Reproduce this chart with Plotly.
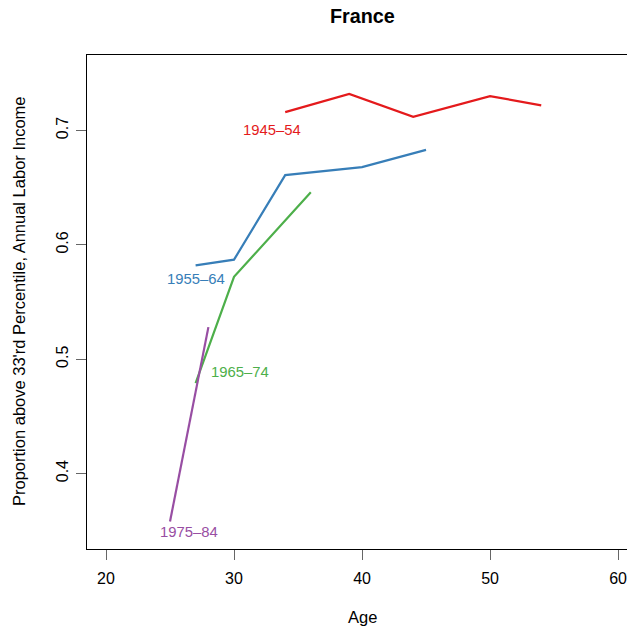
import plotly.graph_objects as go

# ---- data ----
cohorts = ["1945–54", "1955–64", "1965–74", "1975–84"]
colors = ["#E41A1C", "#377EB8", "#4DAF4A", "#984EA3"]

age_1945 = [34, 39, 44, 50, 54]
val_1945 = [0.716, 0.732, 0.712, 0.730, 0.722]

age_1955 = [27, 30, 34, 40, 45]
val_1955 = [0.582, 0.587, 0.661, 0.668, 0.683]

age_1965 = [27, 30, 36]
val_1965 = [0.479, 0.572, 0.646]

age_1975 = [25, 28]
val_1975 = [0.358, 0.528]

label_x = [33.0, 27.0, 30.5, 26.5]
label_y = [0.700, 0.570, 0.489, 0.349]

x_ticks = [20, 30, 40, 50, 60]
y_ticks = [0.4, 0.5, 0.6, 0.7]

title_text = "France"
x_title = "Age"
y_title = "Proportion above 33'rd Percentile, Annual Labor Income"

FONT = "Liberation Sans, Arial, Helvetica, sans-serif"
BASE = 16.5

W, H = 627, 628
L, R, T, B = 87, 0, 55, 79
PW, PH = W - L - R, H - T - B


def px_to_paper_x(px):
    return (px - L) / PW


def px_to_paper_y(py):
    return (H - B - py) / PH


fig = go.Figure()
series = [(age_1945, val_1945), (age_1955, val_1955), (age_1965, val_1965), (age_1975, val_1975)]
for (xs, ys), name, col in zip(series, cohorts, colors):
    fig.add_trace(go.Scatter(x=xs, y=ys, mode="lines", name=name,
                             line=dict(color=col, width=2.2), showlegend=False,
                             hoverinfo="skip"))

for name, col, lx, ly in zip(cohorts, colors, label_x, label_y):
    fig.add_annotation(x=lx, y=ly, xref="x", yref="y", text=name, showarrow=False,
                       font=dict(family=FONT, size=BASE * 0.9, color=col),
                       xanchor="center", yanchor="middle")

# main title and axis titles
fig.add_annotation(x=px_to_paper_x(362), y=px_to_paper_y(16), xref="paper", yref="paper",
                   text="<b>%s</b>" % title_text, showarrow=False,
                   font=dict(family=FONT, size=BASE * 1.2, color="black"),
                   xanchor="center", yanchor="middle")
fig.add_annotation(x=px_to_paper_x(362), y=px_to_paper_y(617), xref="paper", yref="paper",
                   text=x_title, showarrow=False,
                   font=dict(family=FONT, size=BASE, color="black"),
                   xanchor="center", yanchor="middle")
fig.add_annotation(x=px_to_paper_x(19), y=px_to_paper_y(301), xref="paper", yref="paper",
                   text=y_title, showarrow=False, textangle=-90,
                   font=dict(family=FONT, size=BASE, color="black"),
                   xanchor="center", yanchor="middle")

fig.update_layout(
    width=W, height=H,
    margin=dict(l=L, r=R, t=T, b=B, autoexpand=False),
    paper_bgcolor="white", plot_bgcolor="white",
    font=dict(family=FONT, size=BASE, color="black"),
    xaxis=dict(range=[18.516, 60.70], tickvals=x_ticks, ticktext=[str(v) for v in x_ticks],
               showgrid=False, zeroline=False, showline=True, linecolor="black", linewidth=1.3,
               mirror=True, ticks="outside", ticklen=10, tickwidth=1, tickcolor="#666",
               ticklabelstandoff=5, automargin=False, ticklabeloverflow="allow",
               tickfont=dict(size=16, family=FONT, color="black")),
    yaxis=dict(range=[0.334, 0.766], tickvals=y_ticks, ticktext=[str(v) for v in y_ticks],
               showgrid=False, zeroline=False, showline=True, linecolor="black", linewidth=1.3,
               mirror=False, ticks="outside", ticklen=10, tickwidth=1, tickcolor="#666",
               tickangle=-90, ticklabelstandoff=1, automargin=False,
               tickfont=dict(size=16, family=FONT, color="black")),
)

fig.write_html("out.html", config={"displayModeBar": False},
               post_script="document.body.style.margin='0';document.body.style.padding='0';"
                           "document.body.style.overflow='hidden';")
